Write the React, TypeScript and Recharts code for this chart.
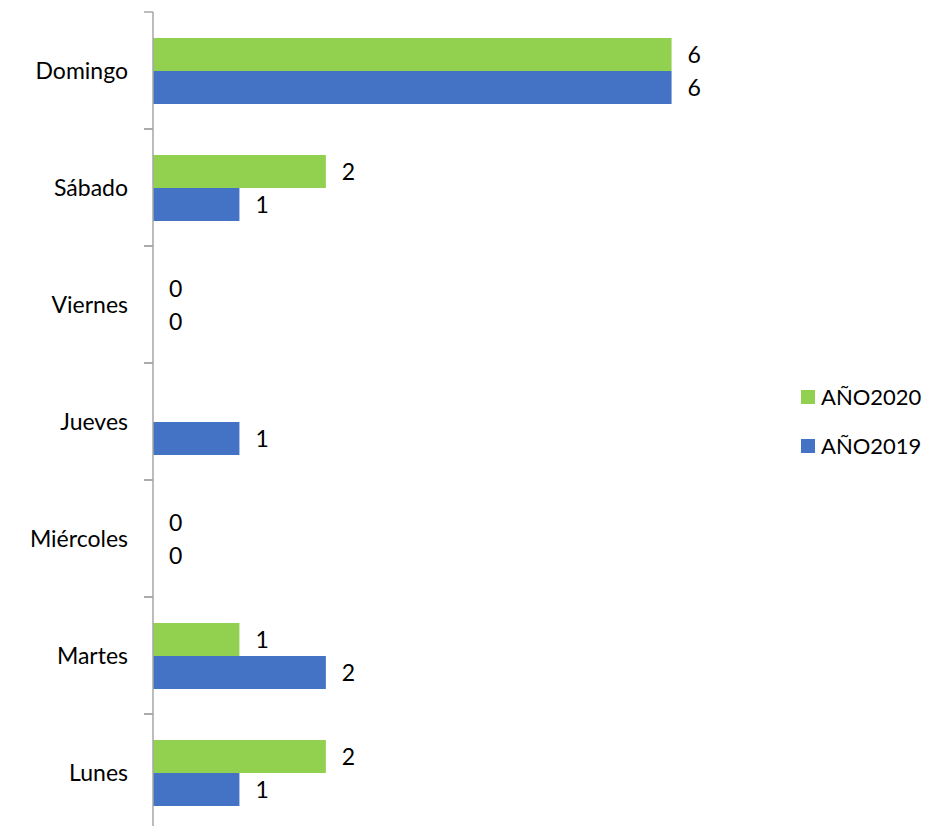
import { BarChart, Bar, XAxis, YAxis, LabelList, Legend } from 'recharts';

const days = ['Lunes', 'Martes', 'Miércoles', 'Jueves', 'Viernes', 'Sábado', 'Domingo'];
const year2020 = [2, 1, 0, null, 0, 2, 6];
const year2019 = [1, 2, 0, 1, 0, 1, 6];
const seriesNames = ['AÑO2020', 'AÑO2019'];

const data = days.map((day, i) => ({ day, a2020: year2020[i], a2019: year2019[i] }));

const FONT = 'Lato, "Liberation Sans", sans-serif';
const GREEN = '#92D050';
const BLUE = '#4472C4';
const AXIS = '#a6a6a6';
const BAND = 117;

function DayTick(props: any) {
  const { x, y, payload } = props;
  return (
    <g>
      <text x={x} y={y} dy={8} textAnchor="end" fontSize={23} fontFamily={FONT} fill="#000">
        {payload.value}
      </text>
      <line x1={x + 16} x2={x + 25} y1={y - BAND / 2} y2={y - BAND / 2} stroke={AXIS} strokeWidth={1.5} />
      <line x1={x + 16} x2={x + 25} y1={y + BAND / 2} y2={y + BAND / 2} stroke={AXIS} strokeWidth={1.5} />
    </g>
  );
}

function SideLegend(props: any) {
  const items = [...(props.payload || [])].sort(
    (a: any, b: any) => seriesNames.indexOf(a.value) - seriesNames.indexOf(b.value)
  );
  return (
    <div style={{ fontFamily: FONT, fontSize: 22, width: 130, whiteSpace: 'nowrap' }}>
      {items.map((it: any) => (
        <div key={it.value} style={{ display: 'flex', alignItems: 'center', height: 49 }}>
          <span style={{ width: 14, height: 14, background: it.color, display: 'inline-block', marginRight: 6 }} />
          <span>{it.value}</span>
        </div>
      ))}
    </div>
  );
}

export default function App() {
  return (
    <div style={{ position: 'fixed', top: 0, left: 0, width: 933, height: 826, overflow: 'hidden', background: '#fff' }}>
      <BarChart
        width={933}
        height={850}
        data={data}
        layout="vertical"
        margin={{ top: 12, right: 175, bottom: 19, left: 0 }}
        barGap={0}
      >
        <XAxis type="number" hide domain={[0, 7]} />
        <YAxis
          type="category"
          dataKey="day"
          reversed
          width={153}
          tickSize={9}
          tickMargin={16}
          tickLine={false}
          axisLine={{ stroke: AXIS, strokeWidth: 1.5 }}
          tick={<DayTick />}
          interval={0}
        />
        <Legend
          layout="vertical"
          content={<SideLegend />}
          wrapperStyle={{ left: 801, top: 372, width: 0, height: 0, overflow: 'visible' }}
        />
        <Bar dataKey="a2020" name="AÑO2020" fill={GREEN} barSize={33} minPointSize={0.01} isAnimationActive={false}>
          <LabelList dataKey="a2020" position="right" offset={16} fontSize={23} fontFamily={FONT} fill="#000" />
        </Bar>
        <Bar dataKey="a2019" name="AÑO2019" fill={BLUE} barSize={33} minPointSize={0.01} isAnimationActive={false}>
          <LabelList dataKey="a2019" position="right" offset={16} fontSize={23} fontFamily={FONT} fill="#000" />
        </Bar>
      </BarChart>
    </div>
  );
}
